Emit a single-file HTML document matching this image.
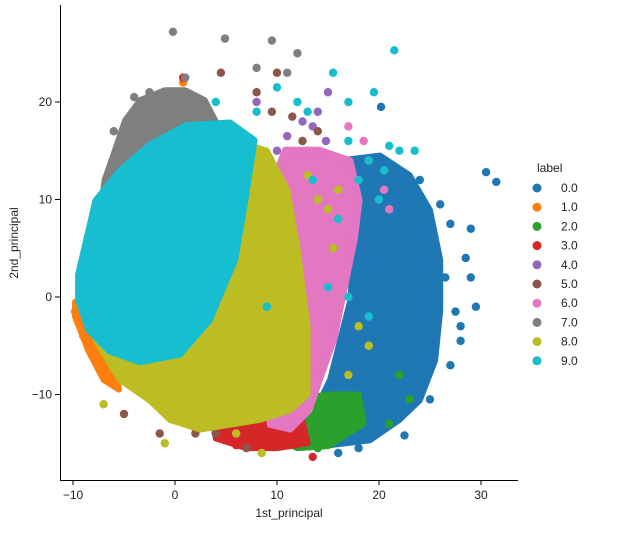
<!DOCTYPE html>
<html><head><meta charset="utf-8">
<style>
html,body{margin:0;padding:0;background:#fff;}
svg text{font-family:"Liberation Sans","DejaVu Sans",sans-serif;fill:#222;}
</style></head>
<body>
<svg id="chart" width="618" height="531" xmlns="http://www.w3.org/2000/svg">
<g id="marks"></g>
<g id="axes"></g>
<g id="legend"></g>
</svg>
<script>
const NS="http://www.w3.org/2000/svg";
const labels=["0.0","1.0","2.0","3.0","4.0","5.0","6.0","7.0","8.0","9.0"];
const colors=["#1f77b4","#ff7f0e","#2ca02c","#d62728","#9467bd","#8c564b","#e377c2","#7f7f7f","#bcbd22","#17becf"];
const xTicks=[-10,0,10,20,30];
const yTicks=[-10,0,10,20];
// density hulls (data coords) per label
const hull0=[[16.2,14],[20.1,14.5],[23,12.5],[25,8.9],[26,3.8],[26,-1.4],[25.5,-6.5],[24,-10.6],[22,-12.6],[19.1,-14.7],[15.2,-15.2],[12.3,-14.7],[15.2,-8.5],[17.2,-0.3],[17.6,6.9]];
const hull1=[[-9.8,-0.5],[-9.8,-2],[-8.5,-5.5],[-7,-8.5],[-5.5,-9.5],[-6,-6],[-8,-3]];
const hull2=[[10.3,-14.7],[12,-10.5],[15,-10],[18,-10],[18.5,-13],[15,-15.3],[12,-15.5]];
const hull3=[[3.4,-10.5],[8,-10.5],[12,-10.5],[13,-15],[10,-15.5],[7,-15.5],[4,-14.5]];
const hull4=[];
const hull5=[];
const hull6=[[10.8,15.1],[14.2,15.1],[17.2,14],[18.1,9.9],[17.6,5.8],[16.6,0.7],[15.6,-4.4],[14.2,-8.5],[13.2,-11.6],[11.3,-13.6],[9.3,-13.1],[8.8,-8.5],[8.3,-0.3],[8.8,9.9]];
const hull7=[[-7.8,-1.3],[-8.3,3.8],[-7.4,7.9],[-6.9,12],[-5.9,15],[-4.9,18.1],[-3.4,20.2],[-1,21.2],[1,21.2],[2.9,20.2],[5,16],[0,10],[-5,5]];
const hull8=[[-7.8,-4.4],[-5.4,-8.5],[-2.5,-10.6],[-0.5,-12.6],[2.5,-13.6],[5.4,-13.1],[8.3,-12.6],[11.3,-11.6],[13,-10],[13,-3],[12,5],[11,11],[9,15],[6,16],[6,6],[3,-2],[-1,-5],[-5,-5]];
const hull9=[[-9.5,2.3],[-7.8,9.9],[-5.4,13],[-2.5,15.6],[1,17.6],[5.4,17.9],[7.8,16.1],[6.9,9.9],[5.9,3.8],[3.4,-2.4],[0.5,-5.9],[-3.4,-6.7],[-6.4,-5.6],[-8.5,-3.4],[-9.5,-0.3]];
// individual outlier points per label
const pts0=[[30.5,12.8],[31.5,11.8],[29,7],[28.5,4],[29,2],[28,-3],[27,-7],[25,-10.5],[22.5,-14.2],[20.2,19.5],[26,9.5],[27,7.5],[25,-5],[29.5,-1],[28,-4.5],[24,12],[22,12.5],[18,-15.5],[16,-16],[26.5,2],[27.5,-1.5]];
const pts1=[[0.8,22],[-9.8,-1.5],[-9,-4]];
const pts2=[[14,-15.5],[21,-13],[23,-10.5],[22,-8],[10,-14]];
const pts3=[[0.8,22.5],[13.5,-16.4],[4,-14],[2,-13.5],[6,-15.2]];
const pts4=[[14,19],[15,21],[13.5,17.5],[14.8,16],[14,14],[15,12],[16,8],[8,20],[10,15],[12.5,18],[11,16.5]];
const pts5=[[4.5,23],[10,23],[8,21],[11.5,18.5],[14,17],[13,15],[6,14],[4,-14],[-5,-12],[2,-14],[7,-15.5],[-1.5,-14],[12.5,16],[9.5,19]];
const pts6=[[19,14],[20.5,11],[18.5,16],[17,17.5],[21,9],[10,-13],[12,-12.5]];
const pts7=[[-0.2,27.2],[4.9,26.5],[9.5,26.3],[12,25],[8,23.5],[11,23],[-2.5,21],[-4,20.5],[1,22.5],[-6,17]];
const pts8=[[8.5,-16],[17,-8],[19,-5],[15,9],[16,11],[14,10],[6,-14],[18,-3],[15.5,5],[13,12.5],[-7,-11],[-1,-15]];
const pts9=[[21.5,25.3],[15.5,23],[19.5,21],[17,20],[12,20],[10,21.5],[13,19],[8,19],[17,16],[19,14],[20.5,13],[22,15],[20,10],[15,1],[17,0],[19,-2],[9,-1],[13.5,12],[16,8],[4,20],[23.5,15],[21,15.5],[18,12]];
const hulls=[hull0,hull1,hull2,hull3,hull4,hull5,hull6,hull7,hull8,hull9];
const points=[pts0,pts1,pts2,pts3,pts4,pts5,pts6,pts7,pts8,pts9];

const X=v=>175+v*10.2;
const Y=v=>297-v*9.75;
const marks=document.getElementById('marks');
const axes=document.getElementById('axes');
const legend=document.getElementById('legend');
function mk(tag,attrs,parent){const e=document.createElementNS(NS,tag);for(const k in attrs)e.setAttribute(k,attrs[k]);parent.appendChild(e);return e;}

for(let i=0;i<10;i++){
  const h=hulls[i];
  if(h.length){
    const p=mk('polygon',{points:h.map(d=>X(d[0])+','+Y(d[1])).join(' '),fill:colors[i],stroke:colors[i],'stroke-width':6,'stroke-linejoin':'round'},marks);
    
    
  }
  for(const d of points[i]){
    const c=mk('circle',{cx:X(d[0]),cy:Y(d[1]),r:4.2,fill:colors[i]},marks);
    
    
  }
}
let s=mk('line',{x1:60.5,y1:5,x2:60.5,y2:480.5,stroke:'#000','stroke-width':1},axes);

s=mk('line',{x1:60,y1:480.5,x2:518,y2:480.5,stroke:'#000','stroke-width':1},axes);

for(const t of xTicks){
  mk('line',{x1:X(t),y1:480,x2:X(t),y2:485,stroke:'#000'},axes);
  const tx=mk('text',{x:X(t),y:499,'text-anchor':'middle','font-size':12},axes);
  tx.textContent=t<0?'\u2212'+(-t):t;
  
}
for(const t of yTicks){
  mk('line',{x1:55,y1:Y(t),x2:60,y2:Y(t),stroke:'#000'},axes);
  const tx=mk('text',{x:52,y:Y(t)+4,'text-anchor':'end','font-size':12},axes);
  tx.textContent=t<0?'\u2212'+(-t):t;
  
}
let lt=mk('text',{x:289,y:517,'text-anchor':'middle','font-size':12},axes);
lt.textContent='1st_principal';
lt=mk('text',{x:18,y:243,'text-anchor':'middle','font-size':12,transform:'rotate(-90 18 243)'},axes);
lt.textContent='2nd_principal';
lt=mk('text',{x:537,y:172,'font-size':12},legend);
lt.textContent='label';
for(let i=0;i<10;i++){
  const yy=188+i*19.2;
  const g=mk('g',{},legend);
  
  
  mk('circle',{cx:537,cy:yy,r:4.5,fill:colors[i]},g);
  const t=mk('text',{x:561,y:yy+4,'font-size':12},g);
  t.textContent=labels[i];
}
</script>
</body></html>
